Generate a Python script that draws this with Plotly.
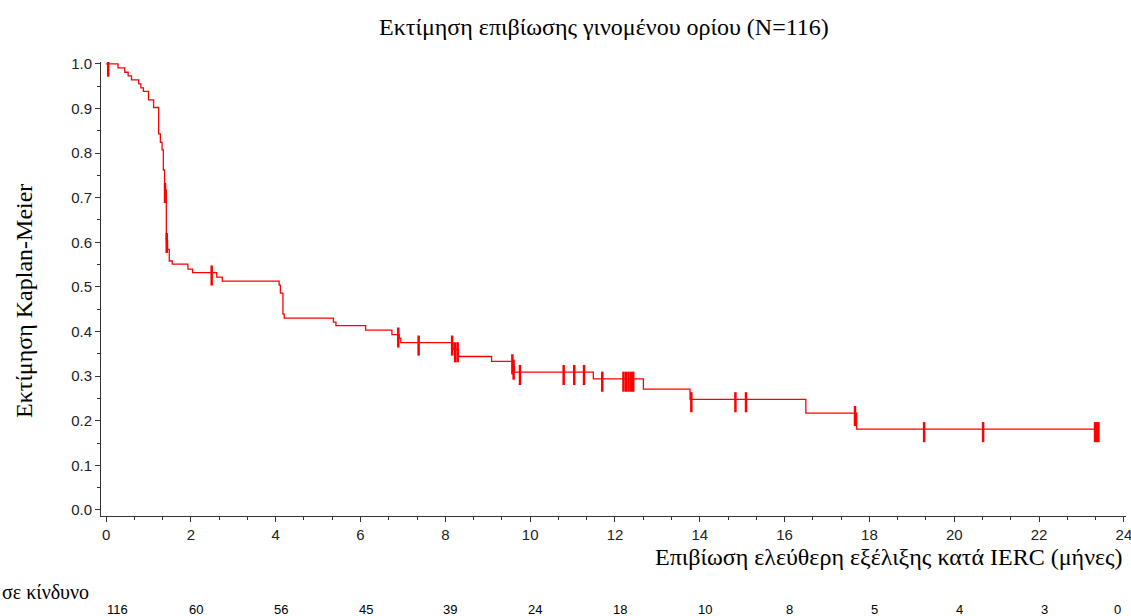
import numpy as np
import plotly.graph_objects as go

# ---- data ----
event_times = [0.28, 0.44, 0.52, 0.60, 0.77, 0.82, 0.88, 1.00, 1.12, 1.24, 1.28, 1.32,
               1.35, 1.38, 1.42, 1.45, 1.49, 1.56, 1.93, 2.04, 2.61, 2.74, 4.08, 4.11,
               4.17, 4.20, 5.36, 5.42, 6.12, 6.74, 6.91, 6.95, 8.18, 8.31, 9.09, 9.59,
               9.63, 11.49, 12.67, 13.77, 16.50, 17.70]
survival = [0.991, 0.981, 0.973, 0.964, 0.955, 0.946, 0.938, 0.919, 0.902, 0.843, 0.824,
            0.807, 0.762, 0.717, 0.605, 0.584, 0.558, 0.551, 0.540, 0.532, 0.522, 0.513,
            0.504, 0.486, 0.439, 0.430, 0.421, 0.413, 0.403, 0.393, 0.385, 0.375, 0.360,
            0.344, 0.333, 0.321, 0.309, 0.294, 0.271, 0.248, 0.217, 0.181]
last_time = 23.40
censor_times = [0.05, 1.39, 1.43, 2.49, 6.89, 7.37, 8.16, 8.23, 8.29, 9.58, 9.61, 9.76,
                10.79, 11.04, 11.27, 11.70, 12.20, 12.26, 12.32, 12.38, 12.43, 13.80,
                14.84, 15.09, 17.66, 19.29, 20.68, 23.32, 23.36, 23.40]
risk_times = [0, 2, 4, 6, 8, 10, 12, 14, 16, 18, 20, 22, 24]
at_risk = [116, 60, 56, 45, 39, 24, 18, 10, 8, 5, 4, 3, 0]

title_text = "Εκτίμηση επιβίωσης γινομένου ορίου (N=116)"
x_title = "Επιβίωση ελεύθερη εξέλιξης κατά IERC (μήνες)"
y_title = "Εκτίμηση Kaplan-Meier"
risk_label = "σε κίνδυνο"

RED = "#ff0000"
SERIF = "Liberation Serif, Times New Roman, serif"
SANS = "Liberation Sans, Arial, sans-serif"

# step curve
xs = [0.0] + event_times + [last_time]
ys = [1.0] + survival + [survival[-1]]

# survival at censor times
et = np.array(event_times)
sv = np.array(survival)
def s_at(t):
    i = np.searchsorted(et, t, side="right")
    return 1.0 if i == 0 else float(sv[i - 1])

cx, cy = [], []
for t in censor_times:
    s = s_at(t)
    cx += [t, t, None]
    cy += [s + 0.016, s - 0.029, None]

fig = go.Figure()
fig.add_trace(go.Scatter(x=xs, y=ys, mode="lines", line=dict(color=RED, width=1.3, shape="hv"),
                         showlegend=False, hoverinfo="skip"))
fig.add_trace(go.Scatter(x=cx, y=cy, mode="lines", line=dict(color=RED, width=2.5),
                         showlegend=False, hoverinfo="skip"))

annotations = []
annotations.append(dict(text=x_title, xref="paper", yref="paper", x=1.0, y=0, xanchor="right",
                        yanchor="middle", yshift=-41, xshift=-1, showarrow=False,
                        font=dict(family=SERIF, size=24, color="#000")))
annotations.append(dict(text=risk_label, xref="paper", yref="paper", x=0, y=0, xanchor="left",
                        yanchor="middle", yshift=-76, xshift=-101, showarrow=False,
                        font=dict(family=SERIF, size=20, color="#000")))
for i, (t, n) in enumerate(zip(risk_times, at_risk)):
    if i == 0:
        shift = 11
    elif i == len(risk_times) - 1:
        shift = -6
    else:
        shift = 5
    annotations.append(dict(text=str(n), x=t, xref="x", yref="paper", y=0, yshift=-93,
                            xshift=shift, xanchor="center", yanchor="middle", showarrow=False,
                            font=dict(family=SANS, size=13, color="#000")))
annotations.append(dict(text=y_title, xref="paper", yref="paper", x=0, y=0.5, xanchor="center",
                        yanchor="middle", xshift=-77, yshift=-12, textangle=-90, showarrow=False,
                        font=dict(family=SERIF, size=24, color="#000")))

fig.update_layout(
    width=1131, height=616,
    margin=dict(l=101, r=5, t=62, b=100),
    paper_bgcolor="white", plot_bgcolor="white",
    title=dict(text=title_text, x=0.534, xanchor="center", y=1 - 27 / 616, yanchor="middle",
               font=dict(family=SERIF, size=24, color="#000"), automargin=False),
    annotations=annotations,
    xaxis=dict(range=[-0.12, 24.05], tickmode="array", tickvals=risk_times,
               ticks="outside", ticklen=5, tickcolor="#333", showline=True, linecolor="#333",
               linewidth=1, showgrid=False, zeroline=False, ticklabeloverflow="allow",
               automargin=False,
               tickfont=dict(family=SANS, size=15, color="#222"),
               minor=dict(ticks="outside", ticklen=3, tickcolor="#333", dtick=2 / 3, tick0=0,
                          showgrid=False)),
    yaxis=dict(range=[-0.0135, 1.004], tick0=0, dtick=0.1, tickformat=".1f",
               ticks="outside", ticklen=5, tickcolor="#333", showline=True, linecolor="#333",
               linewidth=1, showgrid=False, zeroline=False, automargin=False,
               tickfont=dict(family=SANS, size=15, color="#222"),
               minor=dict(ticks="outside", ticklen=3, tickcolor="#333", dtick=0.05,
                          showgrid=False)),
)

fig.write_html("out.html")
